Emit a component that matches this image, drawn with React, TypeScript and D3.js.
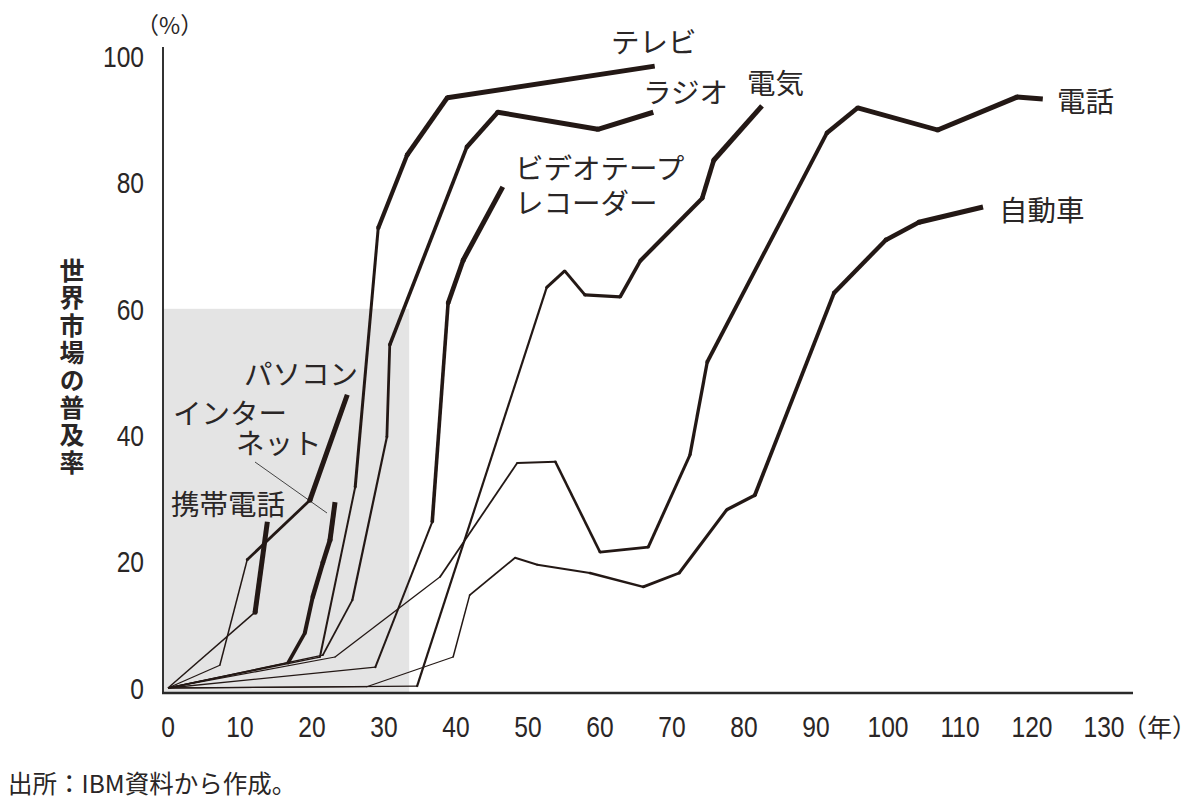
import React from 'react';
import * as d3 from 'd3';

// ---- data (years since introduction, diffusion %) ----
const xTickValues = [0, 10, 20, 30, 40, 50, 60, 70, 80, 90, 100, 110, 120, 130];
const yTickValues = [0, 20, 40, 60, 80, 100];

const television: [number, number][] = [
  [0, 0], [21.1, 4.9], [26.0, 31.8], [29.2, 72.8], [33.2, 84.3], [38.8, 93.4], [67.6, 98.4],
];
const radio: [number, number][] = [
  [0, 0], [21.5, 5.2], [25.6, 13.9], [30.4, 39.7], [30.8, 54.3], [41.5, 85.6], [45.8, 91.1], [59.7, 88.4], [67.4, 91.1],
];
const electricity: [number, number][] = [
  [0, 0], [34.6, 0.3], [52.6, 63.4], [55.1, 66.0], [57.9, 62.2], [62.8, 61.9], [65.6, 67.6], [74.2, 77.5], [75.8, 83.5], [82.5, 92.1],
];
const telephone: [number, number][] = [
  [0, 0], [23.2, 4.9], [37.8, 17.6], [48.5, 35.6], [53.8, 35.8], [60.0, 21.5], [66.7, 22.3], [72.5, 36.9], [74.9, 51.6], [91.5, 87.8], [95.8, 91.8], [106.9, 88.3], [117.9, 93.5], [121.5, 93.2],
];
const automobile: [number, number][] = [
  [0, 0], [27.6, 0.2], [39.6, 4.9], [41.9, 14.7], [48.2, 20.6], [51.3, 19.5], [58.6, 18.2], [66.0, 16.0], [71.0, 18.2], [77.6, 28.2], [81.5, 30.5], [92.5, 62.5], [99.7, 70.9], [104.3, 73.7], [113.2, 76.1],
];
const videoRecorder: [number, number][] = [
  [0, 0], [28.8, 3.3], [36.7, 26.3], [38.9, 60.9], [41.0, 67.7], [46.5, 79.3],
];
const personalComputer: [number, number][] = [
  [0, 0], [7.2, 3.6], [11.0, 20.3], [19.7, 29.7], [24.9, 46.4],
];
const mobilePhone: [number, number][] = [
  [0, 0], [12.1, 12.0], [13.8, 26.3],
];
const internet: [number, number][] = [
  [0, 0], [16.7, 4.0], [19.0, 8.7], [20.1, 14.4], [21.5, 19.8], [22.5, 23.4], [23.2, 29.4],
];

// shaded "early period" box (years, %)
const shadeYears = [0, 33.5];
const shadePct = [0, 60];

// ---- styles: stroke width of each segment (lines thicken as they mature) ----
const series = [
  { data: television, widths: [1.3, 2.0, 3.0, 4.2, 4.8, 5.0] },
  { data: radio, widths: [1.3, 1.8, 2.2, 2.8, 3.6, 4.6, 5.0, 5.0] },
  { data: electricity, widths: [1.3, 2.2, 3.0, 3.0, 3.2, 3.6, 4.1, 4.6, 5.0] },
  { data: telephone, widths: [1.2, 1.3, 1.8, 2.2, 2.6, 2.8, 3.0, 3.3, 3.9, 4.5, 4.8, 5.0, 5.0] },
  { data: automobile, widths: [1.2, 1.2, 1.5, 1.8, 2.0, 2.2, 2.5, 2.8, 3.0, 3.3, 3.8, 4.3, 4.6, 5.0] },
  { data: videoRecorder, widths: [1.3, 2.0, 3.6, 4.6, 5.0] },
  { data: personalComputer, widths: [1.3, 1.5, 2.8, 5.0] },
  { data: mobilePhone, widths: [1.5, 5.0] },
  { data: internet, widths: [1.3, 3.6, 4.0, 4.5, 4.8, 5.0] },
];

const INK = '#231815';
const TEXT = '#2a2626';
const JP = '"Noto Sans CJK JP", "Noto Sans", sans-serif';
const NUM = '"Liberation Sans", Arial, sans-serif';

// labels: each entry may hold several lines (second line offset given by dx/dy)
const labels: { lines: string[]; x: number; y: number; dx?: number; dy?: number }[] = [
  { lines: ['テレビ'], x: 611, y: 53 },
  { lines: ['ラジオ'], x: 643, y: 103 },
  { lines: ['電気'], x: 747, y: 94 },
  { lines: ['電話'], x: 1057, y: 112 },
  { lines: ['自動車'], x: 999, y: 221 },
  { lines: ['ビデオテープ', 'レコーダー'], x: 515, y: 179, dx: 0, dy: 35 },
  { lines: ['パソコン'], x: 244, y: 385 },
  { lines: ['インター', 'ネット'], x: 173, y: 424, dx: 63, dy: 30 },
  { lines: ['携帯電話'], x: 171, y: 515 },
];

const yTitle = '世界市場の普及率';

export default function App() {
  const x = d3.scaleLinear().domain([0, 130]).range([168, 1104]);
  const y = d3.scaleLinear().domain([0, 100]).range([688, 56]);

  const axisX = 163;
  const axisY = 693;

  return (
    <svg
      width={1200}
      height={810}
      viewBox="0 0 1200 810"
      style={{ position: 'absolute', left: 0, top: 0, background: '#fff' }}
    >
      <rect x={0} y={0} width={1200} height={810} fill="#fff" />
      {/* shaded region */}
      <rect
        x={axisX}
        y={y(shadePct[1])}
        width={x(shadeYears[1]) - axisX}
        height={axisY - y(shadePct[1])}
        fill="#e4e4e4"
      />

      {/* leader line for インターネット */}
      <line x1={255} y1={462} x2={327} y2={513} stroke="#444" strokeWidth={1} />

      {/* series: each segment drawn with its own width, round joins, butt ends */}
      {series.map((s, si) => {
        const pts = s.data.map((d) => [x(d[0]), y(d[1])] as [number, number]);
        return (
          <g key={si} fill="none" stroke={INK}>
            {pts.slice(0, -1).map((p, i) => (
              <line
                key={'s' + i}
                x1={p[0]}
                y1={p[1]}
                x2={pts[i + 1][0]}
                y2={pts[i + 1][1]}
                strokeWidth={s.widths[i]}
                strokeLinecap="butt"
              />
            ))}
            {pts.slice(1, -1).map((p, i) => (
              <circle
                key={'j' + i}
                cx={p[0]}
                cy={p[1]}
                r={Math.max(s.widths[i], s.widths[i + 1]) / 2}
                fill={INK}
                stroke="none"
              />
            ))}
          </g>
        );
      })}

      {/* axes */}
      <line x1={axisX} y1={47} x2={axisX} y2={axisY} stroke="#333" strokeWidth={2} />
      <line x1={axisX - 1} y1={axisY} x2={1133} y2={axisY} stroke="#2a2a2a" strokeWidth={2.6} />

      {/* y ticks (condensed numerals) */}
      {yTickValues.map((v) => (
        <text
          key={v}
          transform={`translate(144,${y(v)}) scale(0.82,1)`}
          dy="0.36em"
          textAnchor="end"
          fontFamily={NUM}
          fontSize={30}
          fill={TEXT}
        >
          {v}
        </text>
      ))}
      <text x={136} y={34} fontFamily={JP} fontSize={23} fill={TEXT}>
        （%）
      </text>

      {/* x ticks */}
      {xTickValues.map((v) => (
        <text
          key={v}
          transform={`translate(${x(v)},737) scale(0.82,1)`}
          textAnchor="middle"
          fontFamily={NUM}
          fontSize={30}
          fill={TEXT}
        >
          {v}
        </text>
      ))}
      <text x={1122} y={737} fontFamily={JP} fontSize={25} fill={TEXT}>
        （年）
      </text>

      {/* y title (vertical writing) */}
      <text
        x={72}
        y={258}
        fontFamily={JP}
        fontWeight={700}
        fontSize={25}
        fill={TEXT}
        letterSpacing={2.4}
        style={{ writingMode: 'vertical-rl' } as React.CSSProperties}
      >
        {yTitle}
      </text>

      {/* series labels */}
      {labels.map((l, i) => (
        <text key={i} x={l.x} y={l.y} fontFamily={JP} fontSize={28.5} fill={TEXT}>
          {l.lines.map((t, j) => (
            <tspan
              key={j}
              x={l.x + (j > 0 ? l.dx || 0 : 0)}
              y={l.y + j * (l.dy || 0)}
            >
              {t}
            </tspan>
          ))}
        </text>
      ))}

      {/* source */}
      <text x={8} y={793} fontFamily={JP} fontSize={24.5} fill={TEXT}>
        出所：IBM資料から作成。
      </text>
    </svg>
  );
}
